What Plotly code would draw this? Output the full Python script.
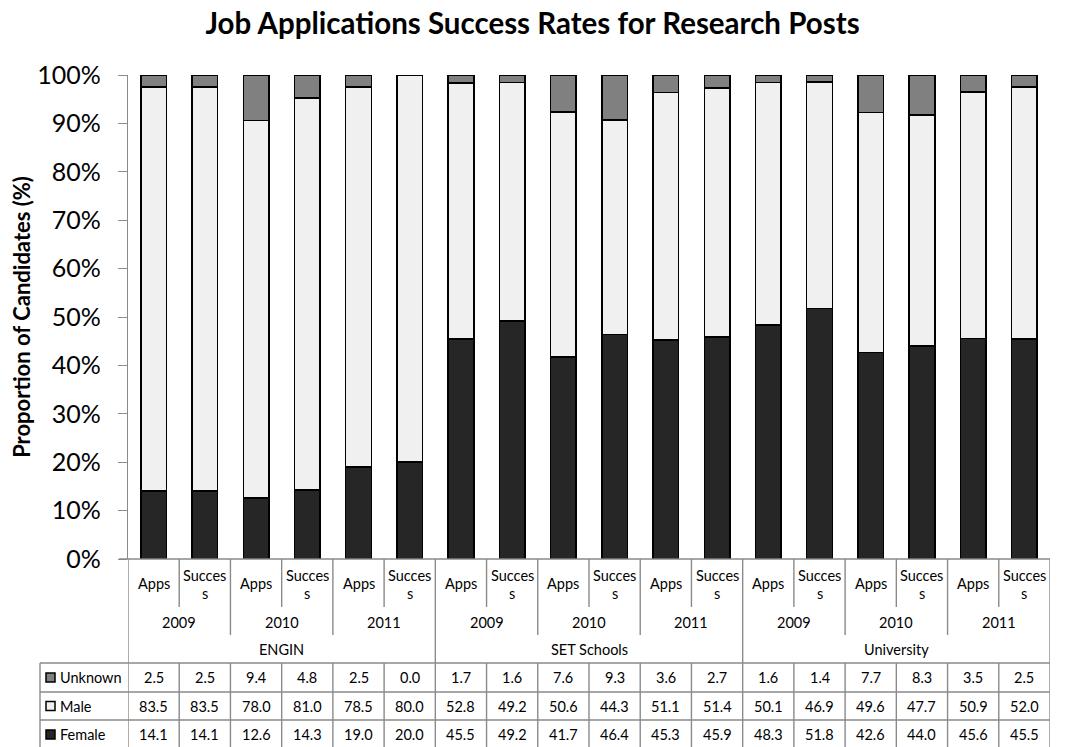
import plotly.graph_objects as go

# Column structure: group -> year -> measure
groups = ["ENGIN", "SET Schools", "University"]
years = ["2009", "2010", "2011"]
measure_lines = [["Apps"], ["Succes", "s"]]

unknown = [2.5, 2.5, 9.4, 4.8, 2.5, 0.0, 1.7, 1.6, 7.6, 9.3, 3.6, 2.7, 1.6, 1.4, 7.7, 8.3, 3.5, 2.5]
male = [83.5, 83.5, 78.0, 81.0, 78.5, 80.0, 52.8, 49.2, 50.6, 44.3, 51.1, 51.4, 50.1, 46.9, 49.6, 47.7, 50.9, 52.0]
female = [14.1, 14.1, 12.6, 14.3, 19.0, 20.0, 45.5, 49.2, 41.7, 46.4, 45.3, 45.9, 48.3, 51.8, 42.6, 44.0, 45.6, 45.5]

y_ticks = list(range(0, 101, 10))
y_tick_text = [f"{t}%" for t in y_ticks]

series_names = ["Unknown", "Male", "Female"]
series_values = [unknown, male, female]
series_colors = {"Unknown": "#808080", "Male": "#f0f0f0", "Female": "#262626"}

W, H = 1065, 747
L, R, T, B = 128, 15, 75, 188
PW, PH = W - L - R, H - T - B
FONT = "Lato, 'Open Sans', sans-serif"
GRID = "#8a8a8a"
TXT = 14.5

n = len(female)
xs = list(range(n))


def py(pix):
    """pixel row -> paper y"""
    return (H - B - pix) / PH


def px(pix):
    """pixel column -> paper x"""
    return (pix - L) / PW


fig = go.Figure()
for name in ["Female", "Male", "Unknown"]:
    vals = series_values[series_names.index(name)]
    fig.add_trace(go.Bar(
        x=xs, y=vals, name=name, width=0.5,
        marker=dict(color=series_colors[name], line=dict(color="#000000", width=1.5)),
        showlegend=False,
    ))

shapes = []
ann = []

# row boundaries of the table below the axis (pixels)
y_axis = H - B
y_meas = 607
y_year = 635
row_edges = [663, 692, 720, 749]


def vline(xv, y0p, y1p, xref="x"):
    shapes.append(dict(type="line", xref=xref, yref="paper", x0=xv, x1=xv,
                       y0=py(y0p), y1=py(y1p), line=dict(color=GRID, width=1.4)))


def hline(x0, x1, yp, xref="paper"):
    shapes.append(dict(type="line", xref=xref, yref="paper", x0=x0, x1=x1,
                       y0=py(yp), y1=py(yp), line=dict(color=GRID, width=1.4)))


def label(x, y, text, xref="x", xanchor="center"):
    ann.append(dict(x=x, y=y, xref=xref, yref="paper", text=text, showarrow=False,
                    font=dict(size=TXT, family=FONT, color="#000"),
                    xanchor=xanchor, yanchor="middle"))


# vertical separators of the category header and table
for i in range(1, n):
    if i % 6 == 0:
        vline(i - 0.5, y_axis, row_edges[-1])
    elif i % 2 == 0:
        vline(i - 0.5, y_axis, y_year)
        vline(i - 0.5, row_edges[0], row_edges[-1])
    else:
        vline(i - 0.5, y_axis, y_meas)
        vline(i - 0.5, row_edges[0], row_edges[-1])
vline(-0.5, y_axis, row_edges[-1])
vline(n - 0.5, y_axis, row_edges[-1])
vline(px(40), row_edges[0], row_edges[-1], xref="paper")
for yp in row_edges:
    hline(px(40), 1, yp)

# category labels
for i in xs:
    lines = measure_lines[i % 2]
    if len(lines) == 1:
        label(i, py(583), lines[0])
    else:
        label(i, py(575), lines[0])
        label(i, py(593), lines[1])
for g in range(3):
    for k in range(3):
        label(g * 6 + k * 2 + 0.5, py(622), years[k])
    label(g * 6 + 2.5, py(649), groups[g])

# data table rows with legend keys
for r, name in enumerate(series_names):
    yc = (row_edges[r] + row_edges[r + 1]) / 2
    shapes.append(dict(type="rect", xref="paper", yref="paper",
                       x0=px(46), x1=px(55), y0=py(yc - 4.5), y1=py(yc + 4.5),
                       fillcolor=series_colors[name], line=dict(color="#000", width=1.5)))
    label(px(58), py(yc), name, xref="paper", xanchor="left")
    for i, v in enumerate(series_values[r]):
        label(i, py(yc), f"{v:.1f}")

fig.update_layout(
    width=W, height=H,
    margin=dict(l=L, r=R, t=T, b=B),
    paper_bgcolor="white", plot_bgcolor="white",
    barmode="stack", barnorm="percent",
    title=dict(text="<b>Job Applications Success Rates for Research Posts</b>",
               x=0.5, xanchor="center", xref="container",
               y=1 - 24 / H, yanchor="middle", yref="container",
               font=dict(size=29.5, family=FONT, color="#000")),
    xaxis=dict(range=[-0.5, n - 0.5], showticklabels=False, ticks="",
               showgrid=False, zeroline=False, showline=False),
    yaxis=dict(range=[0, 100], tickmode="array", tickvals=y_ticks, ticktext=y_tick_text,
               ticks="outside", ticklen=9, tickcolor=GRID, tickwidth=1.4,
               ticklabelstandoff=12,
               showline=True, linecolor=GRID, linewidth=1.4,
               showgrid=False, zeroline=False,
               tickfont=dict(size=25, family=FONT, color="#000"),
               title=dict(text="Proportion of Candidates (%)", standoff=0,
                          font=dict(size=22, family=FONT, color="#000", weight="bold"))),
    shapes=shapes + [dict(type="line", xref="paper", yref="paper", x0=px(119), x1=1,
                          y0=0, y1=0, line=dict(color=GRID, width=1.4))],
    annotations=ann,
)

fig.write_html("out.html")
